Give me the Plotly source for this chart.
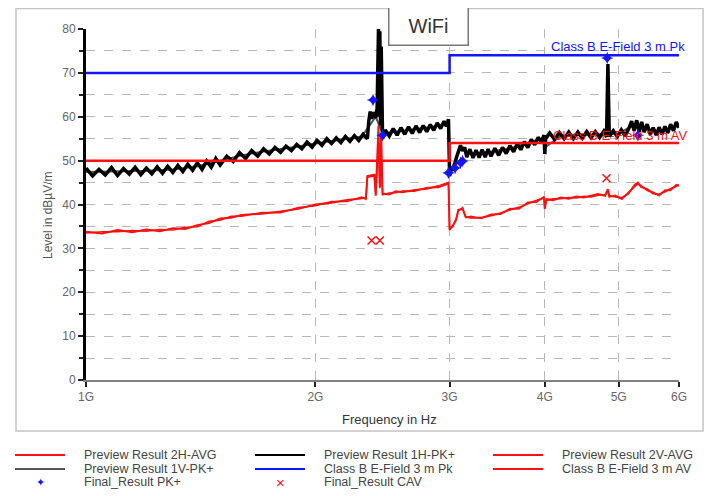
import plotly.graph_objects as go

# ---------------- data (frequency in GHz, level in dBµV/m) ----------------
f_1h_pk = [1.00, 1.02, 1.04, 1.06, 1.08, 1.10, 1.12, 1.14, 1.16, 1.18, 1.20, 1.22, 1.24, 1.26,
           1.28, 1.30, 1.32, 1.34, 1.36, 1.38, 1.40, 1.42, 1.44, 1.46, 1.48, 1.50, 1.53, 1.56,
           1.59, 1.62, 1.65, 1.68, 1.71, 1.74, 1.77, 1.80, 1.83, 1.86, 1.89, 1.92, 1.95, 1.98,
           2.01, 2.04, 2.07, 2.10, 2.13, 2.16, 2.19, 2.22, 2.25, 2.28, 2.31, 2.34, 2.35, 2.36,
           2.37, 2.38, 2.40, 2.41, 2.42, 2.425, 2.43, 2.435, 2.44, 2.45, 2.47, 2.50, 2.53, 2.56,
           2.59, 2.62, 2.65, 2.68, 2.71, 2.74, 2.77, 2.80, 2.83, 2.86, 2.89, 2.92, 2.95, 2.97,
           2.99, 3.00, 3.02, 3.04, 3.06, 3.08, 3.10, 3.12, 3.14, 3.16, 3.19, 3.22, 3.25, 3.28,
           3.31, 3.34, 3.37, 3.40, 3.44, 3.48, 3.52, 3.56, 3.60, 3.64, 3.68, 3.72, 3.76, 3.80,
           3.84, 3.88, 3.92, 3.96, 3.99, 4.00, 4.01, 4.06, 4.12, 4.18, 4.24, 4.30, 4.36, 4.42,
           4.48, 4.54, 4.60, 4.66, 4.72, 4.78, 4.82, 4.84, 4.86, 4.92, 4.98, 5.04, 5.10, 5.16,
           5.20, 5.24, 5.28, 5.32, 5.36, 5.40, 5.45, 5.50, 5.55, 5.60, 5.65, 5.70, 5.75, 5.80,
           5.85, 5.90, 5.95, 6.00]
lv_1h_pk = [48.3, 46.5, 48.0, 46.7, 48.4, 46.6, 48.2, 46.9, 48.5, 46.8, 48.3, 47.0, 48.6, 47.1,
            48.7, 47.3, 48.9, 47.5, 49.2, 47.8, 49.5, 48.0, 49.9, 48.5, 50.5, 49.0, 51.0, 49.8,
            51.8, 50.5, 52.3, 51.0, 52.7, 51.5, 53.0, 51.9, 53.3, 52.3, 53.7, 52.7, 54.2, 53.1,
            54.6, 53.5, 55.0, 53.9, 55.2, 54.1, 55.5, 54.4, 55.7, 54.6, 56.0, 55.0, 59.0, 61.2,
            59.5, 61.0, 59.8, 62.0, 80.0, 60.0, 79.5, 58.0, 76.0, 55.0, 57.0, 55.6, 57.3, 55.8,
            57.5, 56.0, 57.7, 56.2, 57.9, 56.4, 58.0, 56.6, 58.2, 56.9, 58.6, 57.3, 59.0, 57.8,
            59.4, 46.5, 48.5, 47.8, 50.5, 52.0, 53.5, 52.2, 53.0, 50.8, 52.6, 50.6, 52.4, 50.7,
            52.5, 50.8, 52.6, 51.0, 52.8, 51.2, 53.0, 51.6, 53.4, 52.0, 53.8, 52.5, 54.3, 53.0,
            54.8, 53.6, 55.3, 54.2, 55.8, 51.5, 55.0, 56.3, 54.8, 56.4, 55.0, 56.5, 55.0, 56.5,
            55.1, 56.6, 55.2, 56.6, 55.3, 56.7, 55.4, 72.0, 55.5, 56.8, 55.5, 57.0, 55.6, 57.5,
            59.0, 56.8, 59.2, 56.6, 58.8, 56.5, 58.3, 56.0, 57.5, 55.8, 57.6, 56.0, 57.8, 56.3,
            58.3, 56.8, 58.8, 57.5]

f_1v_pk = [1.00, 1.10, 1.20, 1.30, 1.40, 1.50, 1.60, 1.70, 1.80, 1.90, 2.00, 2.10, 2.20, 2.30,
           2.40, 2.45, 2.55, 2.65, 2.75, 2.85, 2.99, 3.00, 3.10, 3.20, 3.40, 3.60, 3.80, 3.99,
           4.00, 4.20, 4.40, 4.60, 4.80, 5.00, 5.20, 5.40, 5.60, 5.80, 6.00]
lv_1v_pk = [47.4, 47.5, 47.7, 48.0, 48.7, 50.0, 51.2, 52.0, 52.6, 53.2, 53.9, 54.5, 54.9, 55.5,
            60.0, 56.2, 56.6, 57.0, 57.3, 57.7, 58.5, 47.2, 52.8, 51.6, 52.0, 52.8, 54.0, 55.2,
            53.0, 55.6, 55.8, 55.9, 56.0, 56.2, 57.8, 57.4, 56.7, 57.2, 58.0]

f_2h_av = [1.00, 1.05, 1.10, 1.15, 1.20, 1.25, 1.30, 1.35, 1.40, 1.45, 1.50, 1.55, 1.60, 1.70,
           1.80, 1.90, 2.00, 2.10, 2.20, 2.30, 2.33, 2.34, 2.39, 2.40, 2.42, 2.43, 2.44, 2.45,
           2.50, 2.55, 2.60, 2.70, 2.80, 2.90, 2.99, 3.00, 3.03, 3.06, 3.08, 3.12, 3.15, 3.20,
           3.30, 3.40, 3.50, 3.60, 3.70, 3.80, 3.90, 3.99, 4.00, 4.02, 4.10, 4.20, 4.30, 4.40,
           4.50, 4.60, 4.70, 4.80, 4.84, 4.86, 4.95, 5.05, 5.15, 5.25, 5.30, 5.35, 5.45, 5.55,
           5.65, 5.75, 5.85, 5.95, 6.00]
lv_2h_av = [33.8, 33.4, 34.2, 33.7, 34.3, 33.9, 34.6, 34.4, 35.3, 35.8, 36.8, 37.0, 37.6, 37.9,
            38.4, 39.0, 40.0, 40.4, 41.0, 41.4, 41.5, 46.5, 46.8, 42.0, 58.0, 44.0, 56.0, 42.5,
            42.3, 43.0, 42.8, 43.3, 43.6, 44.2, 45.0, 34.2, 35.2, 36.5, 38.8, 39.0, 37.2, 37.0,
            37.0, 37.5, 38.0, 38.8, 39.3, 40.2, 40.8, 41.5, 39.0, 41.2, 41.0, 41.6, 41.3, 41.8,
            41.6, 42.0, 42.4, 42.0, 43.5, 42.0, 41.8, 41.5, 42.5, 44.5, 45.0, 44.0, 43.5, 42.5,
            42.3, 43.0, 43.5, 44.2, 44.5]

f_2v_av = [1.00, 1.05, 1.10, 1.15, 1.20, 1.25, 1.30, 1.35, 1.40, 1.45, 1.50, 1.55, 1.60, 1.70,
           1.80, 1.90, 2.00, 2.10, 2.20, 2.30, 2.33, 2.34, 2.39, 2.40, 2.42, 2.43, 2.44, 2.45,
           2.50, 2.55, 2.60, 2.70, 2.80, 2.90, 2.99, 3.00, 3.03, 3.06, 3.08, 3.12, 3.15, 3.20,
           3.30, 3.40, 3.50, 3.60, 3.70, 3.80, 3.90, 3.99, 4.00, 4.02, 4.10, 4.20, 4.30, 4.40,
           4.50, 4.60, 4.70, 4.80, 4.84, 4.86, 4.95, 5.05, 5.15, 5.25, 5.30, 5.35, 5.45, 5.55,
           5.65, 5.75, 5.85, 5.95, 6.00]
lv_2v_av = [33.5, 33.8, 33.8, 34.1, 33.9, 34.3, 34.2, 34.8, 34.9, 36.2, 36.4, 37.3, 37.3, 38.2,
            38.1, 39.3, 39.7, 40.7, 40.7, 41.7, 41.2, 46.2, 46.5, 42.3, 54.0, 43.7, 52.0, 42.2,
            42.6, 42.7, 43.1, 43.0, 43.9, 43.9, 44.7, 34.5, 35.0, 36.8, 38.5, 39.3, 37.0, 37.3,
            36.8, 37.8, 37.8, 39.1, 39.0, 40.5, 40.5, 41.8, 39.5, 40.9, 41.3, 41.3, 41.6, 41.5,
            41.9, 41.7, 42.1, 42.3, 43.0, 41.7, 42.1, 41.2, 42.8, 44.2, 44.7, 44.3, 43.2, 42.8,
            42.0, 43.3, 43.2, 44.5, 44.2]

f_limit = [1.0, 3.0, 6.0]
lv_limit_pk = [70, 74, 74]
lv_limit_av = [50, 54, 54]

f_final_pk = [2.38, 2.45, 2.99, 3.05, 3.10, 3.12, 4.83, 5.30]
lv_final_pk = [63.8, 55.8, 47.2, 48.3, 49.5, 49.9, 73.4, 55.8]

f_final_cav = [2.37, 2.43, 4.82]
lv_final_cav = [31.8, 31.8, 46.0]

x_tickvals = [1, 2, 3, 4, 5, 6]
x_ticktext = ["1G", "2G", "3G", "4G", "5G", "6G"]
y_tickvals = [0, 10, 20, 30, 40, 50, 60, 70, 80]

# ---------------- figure ----------------
FONT = "Liberation Sans, Arial, sans-serif"
RED = "#ff1010"
BLUE = "#1414ff"

fig = go.Figure()
fig.add_trace(go.Scatter(x=f_1v_pk, y=lv_1v_pk, mode="lines", name="Preview Result 1V-PK+",
                         line=dict(color="#505050", width=2)))
fig.add_trace(go.Scatter(x=f_1h_pk, y=lv_1h_pk, mode="lines", name="Preview Result 1H-PK+",
                         line=dict(color="black", width=3.5)))
fig.add_trace(go.Scatter(x=f_2v_av, y=lv_2v_av, mode="lines", name="Preview Result 2V-AVG",
                         line=dict(color=RED, width=1.5)))
fig.add_trace(go.Scatter(x=f_2h_av, y=lv_2h_av, mode="lines", name="Preview Result 2H-AVG",
                         line=dict(color=RED, width=2)))
fig.add_trace(go.Scatter(x=f_limit, y=lv_limit_pk, mode="lines", name="Class B E-Field 3 m Pk",
                         line=dict(color=BLUE, width=2.5, shape="hv")))
fig.add_trace(go.Scatter(x=f_limit, y=lv_limit_av, mode="lines", name="Class B E-Field 3 m AV",
                         line=dict(color=RED, width=2.5, shape="hv")))
fig.add_trace(go.Scatter(x=f_final_pk, y=lv_final_pk, mode="markers", name="Final_Result PK+",
                         marker=dict(symbol="star-diamond", size=9, color=BLUE)))
fig.add_trace(go.Scatter(x=f_final_cav, y=lv_final_cav, mode="markers", name="Final_Result CAV",
                         marker=dict(symbol="x-thin-open", size=8, color=RED,
                                     line=dict(color=RED, width=1.5))))

# the page body adds an 8px offset, so the figure is 8px smaller and shifted
fig.update_layout(
    width=705, height=488,
    margin=dict(l=78, r=34, t=21, b=116),
    paper_bgcolor="white", plot_bgcolor="white",
    showlegend=False,
    font=dict(family=FONT, size=12, color="#444"),
)

fig.update_xaxes(
    type="log", range=[0, 0.77815], tickvals=x_tickvals, ticktext=x_ticktext,
    showgrid=True, gridcolor="#b8b8b8", griddash="dash", gridwidth=1,
    showline=True, linecolor="#808080", linewidth=2,
    ticks="outside", ticklen=5, tickwidth=1.5, tickcolor="#222",
    tickfont=dict(size=12, color="#666"), zeroline=False,
)
fig.update_yaxes(
    range=[0, 80], tickvals=y_tickvals,
    showgrid=True, gridcolor="#b8b8b8", griddash="dash", gridwidth=1,
    showline=True, linecolor="black", linewidth=3,
    ticks="outside", ticklen=5, tickwidth=1.5, tickcolor="#222",
    tickfont=dict(size=12, color="#666"), zeroline=False,
    minor=dict(dtick=5, showgrid=True, gridcolor="#b8b8b8", griddash="dash",
               ticks="outside", ticklen=4, tickcolor="#222"),
)

# helpers: page pixel -> paper coordinate (plot area spans x 86..679, y 29..380 on the page)
def px_x(px):
    return (px - 86) / 593.0

def px_y(py):
    return (380 - py) / 351.0

# outer border
fig.add_shape(type="rect", xref="paper", yref="paper",
              x0=px_x(16), x1=px_x(703), y0=px_y(431), y1=px_y(8.5),
              line=dict(color="#c4c4c4", width=1.5), layer="below")

# title box
fig.add_annotation(text="WiFi", xref="paper", yref="paper", x=px_x(428), y=px_y(25.5),
                   xanchor="center", yanchor="middle", showarrow=False,
                   font=dict(family=FONT, size=20, color="#333"),
                   bgcolor="white", bordercolor="#777", borderwidth=1.5, borderpad=1,
                   width=76, height=35)

# axis titles
fig.add_annotation(text="Level in dBµV/m", xref="paper", yref="paper", x=px_x(48), y=px_y(215),
                   textangle=-90, showarrow=False, xanchor="center", yanchor="middle",
                   font=dict(family=FONT, size=12, color="#555"))
fig.add_annotation(text="Frequency in Hz", xref="paper", yref="paper", x=px_x(389), y=px_y(419),
                   showarrow=False, xanchor="center", yanchor="middle",
                   font=dict(family=FONT, size=13, color="#333"))

# limit labels
fig.add_annotation(text="Class B E-Field 3 m Pk", xref="paper", yref="y", x=px_x(687), y=75.9,
                   showarrow=False, xanchor="right", yanchor="middle",
                   font=dict(family=FONT, size=13, color=BLUE))
fig.add_annotation(text="Class B E-Field 3 m AV", xref="paper", yref="y", x=px_x(689), y=55.8,
                   showarrow=False, xanchor="right", yanchor="middle",
                   font=dict(family=FONT, size=13, color=RED))

# manual legend
legend_rows = [455, 469, 482]
legend_lines = [
    (15, 65, 0, RED, "Preview Result 2H-AVG"),
    (15, 65, 1, "#555555", "Preview Result 1V-PK+"),
    (255, 305, 0, "black", "Preview Result 1H-PK+"),
    (255, 305, 1, BLUE, "Class B E-Field 3 m Pk"),
    (493, 543, 0, RED, "Preview Result 2V-AVG"),
    (493, 543, 1, RED, "Class B E-Field 3 m AV"),
]
for x0, x1, r, col, label in legend_lines:
    yy = px_y(legend_rows[r])
    fig.add_shape(type="line", xref="paper", yref="paper", x0=px_x(x0), x1=px_x(x1),
                  y0=yy, y1=yy, line=dict(color=col, width=2))
    fig.add_annotation(text=label, xref="paper", yref="paper", x=px_x(x1 + 17), y=yy,
                       xanchor="left", yanchor="middle", showarrow=False,
                       font=dict(family=FONT, size=12.5, color="#444"))
# marker legend entries
fig.add_annotation(text="✦", xref="paper", yref="paper", x=px_x(40), y=px_y(482),
                   xanchor="center", yanchor="middle", showarrow=False,
                   font=dict(family="DejaVu Sans", size=11, color=BLUE))
fig.add_annotation(text="Final_Result PK+", xref="paper", yref="paper", x=px_x(82), y=px_y(482),
                   xanchor="left", yanchor="middle", showarrow=False,
                   font=dict(family=FONT, size=12.5, color="#444"))
fig.add_annotation(text="×", xref="paper", yref="paper", x=px_x(280), y=px_y(482),
                   xanchor="center", yanchor="middle", showarrow=False,
                   font=dict(family=FONT, size=15, color=RED))
fig.add_annotation(text="Final_Result CAV", xref="paper", yref="paper", x=px_x(322), y=px_y(482),
                   xanchor="left", yanchor="middle", showarrow=False,
                   font=dict(family=FONT, size=12.5, color="#444"))

fig.write_html("out.html")
